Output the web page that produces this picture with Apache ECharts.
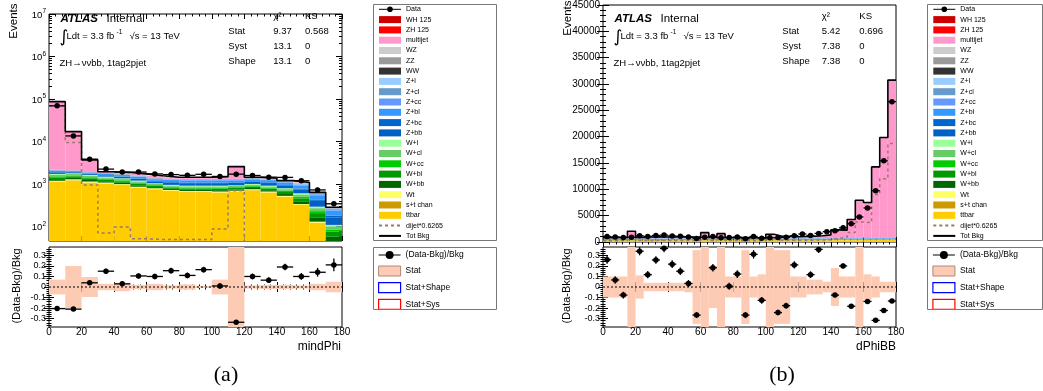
<!DOCTYPE html>
<html><head><meta charset="utf-8">
<script src="https://cdn.jsdelivr.net/npm/echarts@6/dist/echarts.min.js"></script>
<style>html,body{margin:0;padding:0;background:#fff}#c{width:1043px;height:391px}</style>
</head><body><div id="c"></div>
<script>
// ---------------- data ----------------
const edgesL = [0,10,20,30,40,50,60,70,80,90,100,110,120,130,140,150,160,170,180];
const edgesR = [0,5,10,15,20,25,30,35,40,45,50,55,60,65,70,75,80,85,90,95,100,105,110,115,120,125,130,135,140,145,150,155,160,165,170,175,180];
const xTickLabels = [0,20,40,60,80,100,120,140,160,180];
const logTickLabels = [100,1000,10000,100000,1000000,10000000];
const ratioTickLabels = [-0.3,-0.2,-0.1,0,0.1,0.2,0.3];

// (a) mindPhi
const dataL    = [69200,13590,3870,2254,1926,1923,1738,1675,1610,1701,1515,1716,1595,1459,1440,1199,730,345];
const totBkgL  = [87000,17200,3720,1960,1870,1740,1580,1450,1450,1460,1500,2580,1450,1370,1210,1090,640,285];
const dijetL   = [70000,9500,960,71,98,52,50,50,50,50,88,700,1,1,1,1,1,1];
const ratioL   = [-0.205,-0.21,0.04,0.15,0.03,0.105,0.1,0.155,0.11,0.165,0.01,-0.335,0.1,0.065,0.19,0.1,0.14,0.21];
const ratioErrL= [0.004,0.008,0.017,0.024,0.023,0.024,0.026,0.027,0.027,0.027,0.026,0.016,0.027,0.028,0.03,0.032,0.042,0.06];
const statL    = [0.07,0.2,0.095,0.03,0.04,0.02,0.03,0.015,0.025,0.01,0.07,0.4,0.015,0.02,0.02,0.015,0.03,0.05];
const ttbarL   = [1128,1222,1081,1024,940,817,752,686,648,648,629,658,714,629,498,320,123,38];
const stchanL  = [12,13,11,11,10,9,8,7,7,7,7,7,8,7,5,3,1,0];
const WtL      = [60,65,58,55,50,44,40,37,35,35,34,35,38,34,27,17,7,2];
const WbbL     = [110,100,100,80,75,70,50,45,45,45,50,50,50,50,55,55,35,18];
const WblL     = [135,125,125,100,95,85,62,58,58,58,62,60,62,62,68,68,42,18];
const WccL     = [80,75,75,62,55,50,38,35,35,35,38,36,38,38,40,40,24,10];
const WclL     = [135,125,125,105,90,85,62,57,57,57,62,60,62,62,67,67,40,16];
const WlL      = [80,75,75,63,55,50,38,35,35,35,38,34,38,38,40,40,23,8];
const ZbbL     = [140,98,88,105,115,122,112,126,133,133,133,126,126,140,122,140,110,56];
const ZbcL     = [40,28,25,30,33,35,32,36,38,38,38,36,36,40,35,40,32,16];
const ZblL     = [140,98,87,105,116,123,112,126,133,133,133,126,126,140,123,140,110,56];
const ZccL     = [32,22,20,24,26,28,26,29,30,30,30,29,29,32,28,32,25,13];
const ZclL     = [28,20,18,21,23,25,22,25,27,27,27,25,25,28,25,28,22,11];
const ZlL      = [20,14,12,15,17,17,16,18,19,19,19,18,18,20,17,20,16,8];
const WWL      = [15,12,10,10,10,10,9,9,9,9,9,9,9,9,8,8,5,2];
const ZZL      = [20,15,14,14,14,14,13,13,13,13,13,13,13,13,12,12,8,4];
const WZL      = [10,8,7,7,7,7,6,6,6,6,6,6,6,6,6,6,4,2];
const multijetL= [84800,15080,1785,124,134,144,177,96,116,126,166,1246,46,14,26,46,7,3];
const ZHL      = [3,3,3,4,4,4,4,5,5,5,5,5,5,6,6,6,5,3];
const WHL      = [1,1,1,1,1,1,1,1,1,1,1,1,1,2,2,2,1,1];

// (b) dPhiBB
const dataR    = [1046,939,831,914,1179,1061,1232,1312,1156,1081,961,674,890,1065,795,856,932,623,1048,725,803,833,889,1210,1523,1229,1628,1958,2123,2700,3480,4758,6464,9740,15408,26652];
const totBkgR  = [830,880,900,2030,880,950,980,960,950,940,930,920,1780,900,1590,850,830,850,800,830,1460,1100,1080,1000,1050,1100,1200,1350,2300,2250,4260,7930,7490,14260,19830,30740];
const dijetR   = [250,260,270,900,280,300,310,300,300,300,290,290,850,280,800,270,260,270,250,260,700,350,340,320,330,350,400,450,700,900,1800,3800,3700,9000,12000,18700];
const ratioR   = [0.26,0.067,-0.077,-0.55,0.34,0.117,0.257,0.367,0.217,0.15,0.033,-0.267,-0.5,0.183,-0.5,0.007,0.123,-0.267,0.31,-0.127,-0.45,-0.243,-0.177,0.21,0.45,0.117,0.357,0.45,-0.077,0.2,-0.183,-0.4,-0.137,-0.317,-0.223,-0.133];
const ratioErrR= [0.039,0.035,0.032,0.015,0.039,0.034,0.036,0.038,0.036,0.035,0.033,0.028,0.017,0.036,0.018,0.034,0.037,0.029,0.04,0.032,0.019,0.026,0.028,0.035,0.037,0.032,0.034,0.033,0.02,0.023,0.014,0.009,0.011,0.007,0.006,0.005];
const statR    = [0.1,0.1,0.1,0.5,0.11,0.04,0.04,0.04,0.04,0.04,0.05,0.35,0.5,0.2,0.5,0.1,0.1,0.35,0.1,0.12,0.5,0.35,0.35,0.1,0.1,0.07,0.07,0.05,0.18,0.1,0.1,0.5,0.12,0.1,0.05,0.05];
const ttbarR   = [300,305,310,315,320,320,325,325,330,330,330,330,330,330,330,330,330,330,330,330,330,330,335,335,335,335,340,340,345,350,355,360,365,370,375,380];
const stchanR  = [5,5,5,5,5,5,5,5,5,5,5,5,5,5,5,5,5,5,5,5,5,5,5,5,5,5,5,5,5,5,5,5,5,5,5,5];
const WtR      = [18,18,19,19,19,20,20,20,20,20,20,20,20,20,20,20,20,20,20,20,20,20,20,20,20,20,21,21,21,22,22,22,23,23,24,24];
const WbbR     = [35,35,35,35,35,35,35,35,35,35,35,35,35,35,35,35,35,35,35,35,35,35,35,35,35,35,35,35,35,35,35,35,35,35,35,35];
const WblR     = [40,40,40,40,40,40,40,40,40,40,40,40,40,40,40,40,40,40,40,40,40,40,40,40,40,40,40,40,40,40,40,40,40,40,40,40];
const WccR     = [25,25,25,25,25,25,25,25,25,25,25,25,25,25,25,25,25,25,25,25,25,25,25,25,25,25,25,25,25,25,25,25,25,25,25,25];
const WclR     = [30,30,30,30,30,30,30,30,30,30,30,30,30,30,30,30,30,30,30,30,30,30,30,30,30,30,30,30,30,30,30,30,30,30,30,30];
const WlR      = [20,20,20,20,20,20,20,20,20,20,20,20,20,20,20,20,20,20,20,20,20,20,20,20,20,20,20,20,20,20,20,20,20,20,20,20];
const ZbbR     = [70,70,70,70,70,70,70,70,70,70,70,70,70,70,70,70,70,70,70,70,70,70,70,70,70,70,70,70,70,70,70,70,70,70,70,70];
const ZbcR     = [20,20,20,20,20,20,20,20,20,20,20,20,20,20,20,20,20,20,20,20,20,20,20,20,20,20,20,20,20,20,20,20,20,20,20,20];
const ZblR     = [70,70,70,70,70,70,70,70,70,70,70,70,70,70,70,70,70,70,70,70,70,70,70,70,70,70,70,70,70,70,70,70,70,70,70,70];
const ZccR     = [15,15,15,15,15,15,15,15,15,15,15,15,15,15,15,15,15,15,15,15,15,15,15,15,15,15,15,15,15,15,15,15,15,15,15,15];
const ZclR     = [15,15,15,15,15,15,15,15,15,15,15,15,15,15,15,15,15,15,15,15,15,15,15,15,15,15,15,15,15,15,15,15,15,15,15,15];
const ZlR      = [10,10,10,10,10,10,10,10,10,10,10,10,10,10,10,10,10,10,10,10,10,10,10,10,10,10,10,10,10,10,10,10,10,10,10,10];
const WWR      = [5,5,5,5,5,5,5,5,5,5,5,5,5,5,5,5,5,5,5,5,5,5,5,5,5,5,5,5,5,5,5,5,5,5,5,5];
const ZZR      = [10,10,10,10,10,10,10,10,10,10,10,10,10,10,10,10,10,10,10,10,10,10,10,10,10,10,10,10,10,10,10,10,10,10,10,10];
const WZR      = [5,5,5,5,5,5,5,5,5,5,5,5,5,5,5,5,5,5,5,5,5,5,5,5,5,5,5,5,5,5,5,5,5,5,5,5];
const multijetR= [133,178,192,1317,162,231,256,236,221,211,201,191,1051,171,861,121,101,121,71,101,731,371,346,266,316,366,460,610,1555,1499,3504,7169,6723,13488,19052,29957];
const ZHR      = [3,3,3,3,3,3,3,3,3,3,3,3,3,3,3,3,3,3,3,3,3,3,3,3,3,3,3,3,3,3,3,3,3,3,3,3];
const WHR      = [1,1,1,1,1,1,1,1,1,1,1,1,1,1,1,1,1,1,1,1,1,1,1,1,1,1,1,1,1,1,1,1,1,1,1,1];

// stack order bottom -> top, with colours
const stackNames  = ['ttbar','s+t chan','Wt','W+bb','W+bl','W+cc','W+cl','W+l','Z+bb','Z+bc','Z+bl','Z+cc','Z+cl','Z+l','WW','ZZ','WZ','multijet','ZH 125','WH 125'];
const stackColors = ['#ffcc00','#cc9900','#ffff66','#006600','#009900','#00cc00','#66cc66','#99ff99','#0060c4','#0066cc','#3399ff','#6699ff','#6699cc','#99ccff','#333333','#999999','#cccccc','#ff99cc','#ff0000','#cc0000'];
const compsL = [ttbarL,stchanL,WtL,WbbL,WblL,WccL,WclL,WlL,ZbbL,ZbcL,ZblL,ZccL,ZclL,ZlL,WWL,ZZL,WZL,multijetL,ZHL,WHL];
const compsR = [ttbarR,stchanR,WtR,WbbR,WblR,WccR,WclR,WlR,ZbbR,ZbcR,ZblR,ZccR,ZclR,ZlR,WWR,ZZR,WZR,multijetR,ZHR,WHR];

// ---------------- helpers ----------------
const FONT = 'Liberation Sans, Arial, Helvetica, sans-serif';
const LOGMIN = 46, LOGMAX = 1e7, LINMAX = 45000, RMIN = -0.38, RMAX = 0.38;

function rectItem(params, api) {
  const p0 = api.coord([api.value(0), api.value(3)]);
  const p1 = api.coord([api.value(1), api.value(2)]);
  return {type:'rect', shape:{x:p0[0], y:p0[1], width:p1[0]-p0[0], height:p1[1]-p0[1]}, style:{fill: api.visual('color')}};
}
function barItem(params, api) {
  const xa = api.value(0), xb = api.value(1), y = api.value(2), e = api.value(3);
  const a = api.coord([xa, y]), b = api.coord([xb, y]);
  const ch = [{type:'line', shape:{x1:a[0], y1:a[1], x2:b[0], y2:b[1]}, style:{stroke:'#000', lineWidth:1.3}}];
  if (e > 0) {
    const t = api.coord([xa, y + e]), u = api.coord([xa, y - e]);
    const xc = (a[0] + b[0]) / 2;
    ch.push({type:'line', shape:{x1:xc, y1:t[1], x2:xc, y2:u[1]}, style:{stroke:'#000', lineWidth:1.3}});
  }
  return {type:'group', children: ch};
}
function stackSeries(comps, edges, floor, ceil, xi, yi) {
  const cum = new Array(edges.length - 1).fill(0);
  return stackNames.map((name, k) => {
    const data = [];
    for (let i = 0; i < edges.length - 1; i++) {
      const lo = cum[i], hi = cum[i] + comps[k][i];
      cum[i] = hi;
      const l2 = Math.max(lo, floor), h2 = Math.min(hi, ceil);
      if (h2 > l2) data.push([edges[i], edges[i+1], l2, h2]);
    }
    return {type:'custom', name, xAxisIndex:xi, yAxisIndex:yi, itemStyle:{color:stackColors[k]},
      renderItem:rectItem, encode:{x:[0,1], y:[2,3]}, data, clip:true, z:2, silent:true};
  });
}
function stepData(edges, vals) {
  const d = vals.map((v, i) => [edges[i], v]);
  d.push([edges[edges.length-1], vals[vals.length-1]]);
  return d;
}
function mainOverlay(edges, data, tot, dijet, xi, yi) {
  const centers = data.map((v, i) => [(edges[i] + edges[i+1]) / 2, v]);
  return [
    {type:'line', name:'dijet*0.6265', xAxisIndex:xi, yAxisIndex:yi, data:stepData(edges, dijet), step:'end', symbol:'none',
      lineStyle:{color:'#9a7a6a', width:1.5, type:[3,3]}, itemStyle:{color:'#9a7a6a'}, z:4, silent:true, animation:false},
    {type:'line', name:'Tot Bkg', xAxisIndex:xi, yAxisIndex:yi, data:stepData(edges, tot), step:'end', symbol:'none',
      lineStyle:{color:'#000', width:1.6}, itemStyle:{color:'#000'}, z:5, silent:true, animation:false},
    {type:'custom', name:'data-bars', xAxisIndex:xi, yAxisIndex:yi, renderItem:barItem, encode:{x:[0,1], y:2},
      data:data.map((v, i) => [edges[i], edges[i+1], v, 0]), clip:true, z:6, silent:true},
    {type:'line', name:'Data', xAxisIndex:xi, yAxisIndex:yi, data:centers, symbol:'circle', symbolSize:5.5,
      itemStyle:{color:'#000'}, lineStyle:{opacity:0, width:0}, z:7, silent:true, animation:false}
  ];
}
function ratioSeries(edges, ratio, err, stat, xi, yi) {
  const inR = (v) => v > RMIN && v < RMAX;
  const pts = [], bars = [];
  ratio.forEach((r, i) => {
    if (inR(r)) { pts.push([(edges[i]+edges[i+1])/2, r]); bars.push([edges[i], edges[i+1], r, err[i]]); }
  });
  return [
    {type:'custom', name:'Stat', xAxisIndex:xi, yAxisIndex:yi, itemStyle:{color:'#fdcab3', borderColor:'#c89a88', borderWidth:1},
      renderItem:rectItem, encode:{x:[0,1], y:[2,3]}, data:stat.map((s, i) => [edges[i], edges[i+1], Math.max(-s, RMIN), Math.min(s, RMAX)]), clip:true, z:2, silent:true},
    {type:'custom', name:'Stat+Shape', xAxisIndex:xi, yAxisIndex:yi, itemStyle:{color:'#ffffff', borderColor:'#0000ff', borderWidth:1}, renderItem:rectItem, data:[]},
    {type:'custom', name:'Stat+Sys', xAxisIndex:xi, yAxisIndex:yi, itemStyle:{color:'#ffffff', borderColor:'#ff0000', borderWidth:1}, renderItem:rectItem, data:[]},
    {type:'line', name:'zero', xAxisIndex:xi, yAxisIndex:yi, data:[[0,0],[180,0]], symbol:'none', lineStyle:{color:'#000', width:1.2, type:[2,2]}, z:3, silent:true, animation:false},
    {type:'custom', name:'ratio-bars', xAxisIndex:xi, yAxisIndex:yi, renderItem:barItem, encode:{x:[0,1], y:2}, data:bars, clip:true, z:6, silent:true},
    {type:'line', name:'(Data-Bkg)/Bkg', xAxisIndex:xi, yAxisIndex:yi, data:pts, symbol:'circle', symbolSize:5.5,
      itemStyle:{color:'#000'}, lineStyle:{opacity:0, width:0}, z:7, silent:true, animation:false}
  ];
}

// ---------------- axes ----------------
const lab = {fontFamily:FONT, fontSize:10, color:'#000'};
function xAx(grid, pos, labels) {
  return {type:'value', gridIndex:grid, position:pos, min:0, max:180, interval:20,
    axisLine:{show:false}, splitLine:{show:false},
    axisTick:{show:true, inside:true, length:5, lineStyle:{color:'#000'}},
    minorTick:{show:true, splitNumber:5, length:2.5, lineStyle:{color:'#000'}},
    axisLabel: labels ? Object.assign({show:true, margin:0, customValues:xTickLabels}, lab) : {show:false}};
}
const minorLog = [];
for (let e = 1; e <= 6; e++) for (let k = 2; k <= 9; k++) { const v = k * Math.pow(10, e); if (v >= LOGMIN && v <= LOGMAX) minorLog.push(v); }
function logAx(pos, minor, labels) {
  return {type:'log', logBase:10, gridIndex:0, position:pos, min:LOGMIN, max:LOGMAX,
    axisLine:{show:false}, splitLine:{show:false}, minorTick:{show:false},
    axisTick:{show:true, inside:true, length: minor ? 3 : 6, customValues: minor ? minorLog : logTickLabels, lineStyle:{color:'#000'}},
    axisLabel: labels ? {show:true, margin:3, customValues:logTickLabels,
      formatter:(v) => '{b|10}{s|' + Math.round(Math.log10(v)) + '}',
      rich:{b:{fontFamily:FONT, fontSize:9.5, lineHeight:12, verticalAlign:'bottom', color:'#000'},
            s:{fontFamily:FONT, fontSize:6.5, lineHeight:12, verticalAlign:'top', color:'#000'}}} : {show:false}};
}
function linAx(grid, pos, labels) {
  return {type:'value', gridIndex:grid, position:pos, min:0, max:LINMAX, interval:5000,
    axisLine:{show:false}, splitLine:{show:false},
    axisTick:{show:true, inside:true, length:6, lineStyle:{color:'#000'}},
    minorTick:{show:true, splitNumber:5, length:3, lineStyle:{color:'#000'}},
    axisLabel: labels ? Object.assign({show:true, margin:3, formatter:(v) => String(Math.round(v))}, lab) : {show:false}};
}
function ratAx(grid, pos, labels) {
  return {type:'value', gridIndex:grid, position:pos, min:RMIN, max:RMAX, minInterval:0.1, maxInterval:0.1, splitNumber:8,
    axisLine:{show:false}, splitLine:{show:false},
    axisTick:{show:true, inside:true, length:5, customValues:ratioTickLabels, lineStyle:{color:'#000'}},
    minorTick:{show:true, splitNumber:5, length:2.5, lineStyle:{color:'#000'}},
    axisLabel: labels ? {show:true, margin:3, customValues:ratioTickLabels, fontFamily:FONT, fontSize:9, color:'#000',
      formatter:(v) => Math.abs(v) < 1e-9 ? '0' : v.toFixed(1)} : {show:false}};
}

// ---------------- legends ----------------
const legMainData = [{name:'Data', lineStyle:{opacity:1, width:1, color:'#000'}}]
  .concat(stackNames.slice().reverse().map(n => ({name:n, icon:'rect'})))
  .concat([{name:'dijet*0.6265', itemStyle:{opacity:0}}, {name:'Tot Bkg', itemStyle:{opacity:0}}]);
const legRatioData = [{name:'(Data-Bkg)/Bkg', lineStyle:{opacity:1, width:1, color:'#000'}},
  {name:'Stat', icon:'rect', itemStyle:{color:'#fdcab3', borderColor:'#b08878', borderWidth:1}},
  {name:'Stat+Shape', icon:'rect', itemStyle:{color:'#ffffff', borderColor:'#0000ff', borderWidth:1.2}},
  {name:'Stat+Sys', icon:'rect', itemStyle:{color:'#ffffff', borderColor:'#ff0000', borderWidth:1.2}}];
function legMain(x) {
  return {orient:'vertical', left:x, top:5.8, padding:0, itemWidth:22, itemHeight:7, itemGap:3.3, selectedMode:false,
    textStyle:{fontFamily:FONT, fontSize:7, lineHeight:7, color:'#000'}, data:legMainData};
}
function legRatio(x) {
  return {orient:'vertical', left:x, top:250, padding:0, itemWidth:22, itemHeight:10, itemGap:5.5, selectedMode:false,
    textStyle:{fontFamily:FONT, fontSize:8.5, lineHeight:10, color:'#000'}, data:legRatioData};
}

// ---------------- text ----------------
function T(x, y, s, o) {
  o = o || {};
  return {type:'text', x, y, rotation:o.rot || 0, scaleX:o.sx || 1, silent:true, z:100,
    style:{text:s, fill:'#000', fontFamily:o.ff || FONT, fontSize:o.fs || 9.5, fontWeight:o.fw || 'normal', fontStyle:o.it || 'normal',
      align:o.al || 'left', textAlign:o.al || 'left', verticalAlign:o.va || 'middle', textVerticalAlign:o.va || 'middle'}};
}
function panelText(x0, stats) {
  const g = [];
  g.push(T(x0 + 11.5, 18.7, 'ATLAS', {fs:11.5, fw:'bold', it:'italic'}));
  g.push(T(x0 + 57.5, 18.7, 'Internal', {fs:11.5}));
  g.push(T(x0 + 10.5, 37.5, '\u222B', {fs:17, ff:'DejaVu Sans'}));
  g.push(T(x0 + 17.5, 36.7, 'Ldt = 3.3 fb', {fs:9.5}));
  g.push(T(x0 + 67.5, 32.5, '-1', {fs:6.5}));
  g.push(T(x0 + 80.5, 36.7, '\u221As = 13 TeV', {fs:9.5}));
  g.push(T(x0 + 10.5, 63.3, 'ZH\u2192\u03BD\u03BDbb, 1tag2pjet', {fs:9.5}));
  g.push(T(stats.cx, 16.7, '\u03C7\u00B2', {fs:9.5}));
  g.push(T(stats.kx, 16.7, 'KS', {fs:9.5}));
  const rows = ['Stat','Syst','Shape'], ry = [31.7, 46.7, 61];
  rows.forEach((r, i) => {
    g.push(T(stats.lx, ry[i], r, {fs:9.5}));
    g.push(T(stats.cx, ry[i], stats.chi[i], {fs:9.5}));
    g.push(T(stats.kx, ry[i], stats.ks[i], {fs:9.5}));
  });
  return g;
}
const chiL = ['9.37','13.1','13.1'], ksL = ['0.568','0','0'];
const chiR = ['5.42','7.38','7.38'], ksR = ['0.696','0','0'];

const graphics = []
  .concat(panelText(49, {lx:228.3, cx:273.3, kx:305, chi:chiL, ks:ksL}))
  .concat(panelText(603, {lx:782.3, cx:821.7, kx:859.3, chi:chiR, ks:ksR}))
  .concat([
    T(14, 3.5, 'Events', {fs:11.5, rot:Math.PI/2, al:'right'}),
    T(568, 0.5, 'Events', {fs:11.5, rot:Math.PI/2, al:'right'}),
    T(16.5, 286, '(Data-Bkg)/Bkg', {fs:11, rot:Math.PI/2, al:'center'}),
    T(566.5, 286, '(Data-Bkg)/Bkg', {fs:11, rot:Math.PI/2, al:'center'}),
    T(341, 347, 'mindPhi', {fs:12, al:'right'}),
    T(896, 347, 'dPhiBB', {fs:12, al:'right'}),
    T(226, 375, '(a)', {fs:22, ff:'Liberation Serif, DejaVu Serif, serif', al:'center'}),
    T(782, 375, '(b)', {fs:22, ff:'Liberation Serif, DejaVu Serif, serif', al:'center'}),
    {type:'rect', shape:{x:373.5, y:4.5, width:123, height:236}, style:{fill:'none', stroke:'#777', lineWidth:1}, silent:true, z:50},
    {type:'rect', shape:{x:373.5, y:247.5, width:123, height:62}, style:{fill:'none', stroke:'#777', lineWidth:1}, silent:true, z:50},
    {type:'rect', shape:{x:927.5, y:4.5, width:115, height:236}, style:{fill:'none', stroke:'#777', lineWidth:1}, silent:true, z:50},
    {type:'rect', shape:{x:927.5, y:247.5, width:115, height:62}, style:{fill:'none', stroke:'#777', lineWidth:1}, silent:true, z:50}
  ]);

// ---------------- option ----------------
const gridStyle = {show:true, borderColor:'#000', borderWidth:1, backgroundColor:'transparent', containLabel:false, outerBoundsMode:'none'};
const option = {
  animation:false,
  backgroundColor:'#fff',
  textStyle:{fontFamily:FONT},
  grid:[
    Object.assign({left:49, top:14, width:293, height:227}, gridStyle),
    Object.assign({left:49, top:247, width:293, height:80}, gridStyle),
    Object.assign({left:603, top:5, width:293, height:237}, gridStyle),
    Object.assign({left:603, top:247, width:293, height:80}, gridStyle)
  ],
  xAxis:[
    xAx(0,'bottom',false), xAx(0,'top',false),
    xAx(1,'bottom',true),  xAx(1,'top',false),
    xAx(2,'bottom',false), xAx(2,'top',false),
    xAx(3,'bottom',true),  xAx(3,'top',false)
  ],
  yAxis:[
    logAx('left',false,true), logAx('left',true,false), logAx('right',false,false), logAx('right',true,false),
    ratAx(1,'left',true), ratAx(1,'right',false),
    linAx(2,'left',true), linAx(2,'right',false),
    ratAx(3,'left',true), ratAx(3,'right',false)
  ],
  legend:[legMain(378), legRatio(378), legMain(932.3), legRatio(932.3)],
  graphic: graphics,
  series: []
    .concat(stackSeries(compsL, edgesL, LOGMIN, LOGMAX, 0, 0))
    .concat(mainOverlay(edgesL, dataL, totBkgL, dijetL, 0, 0))
    .concat(ratioSeries(edgesL, ratioL, ratioErrL, statL, 2, 4))
    .concat(stackSeries(compsR, edgesR, 0, LINMAX, 4, 6))
    .concat(mainOverlay(edgesR, dataR, totBkgR, dijetR, 4, 6))
    .concat(ratioSeries(edgesR, ratioR, ratioErrR, statR, 6, 8))
};
const chart = echarts.init(document.getElementById('c'), null, {renderer:'canvas'});
chart.setOption(option);
</script></body></html>
